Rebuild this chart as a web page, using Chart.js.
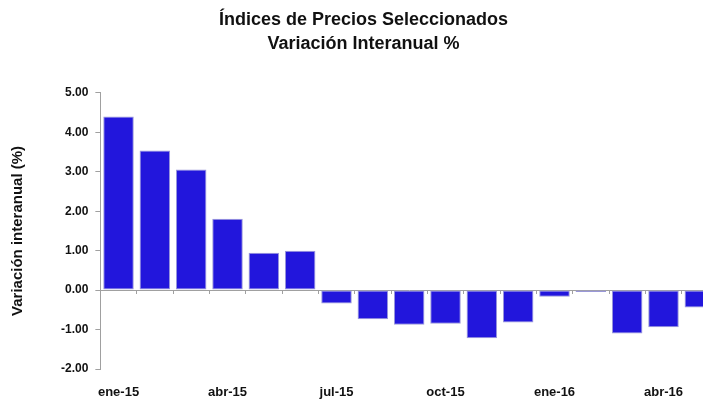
<!DOCTYPE html>
<html>
<head>
<meta charset="utf-8">
<script src="https://cdn.jsdelivr.net/npm/chart.js@4.4.1/dist/chart.umd.min.js"></script>
<style>
  html, body { margin: 0; padding: 0; background: #fff; overflow: hidden; }
  #wrap { width: 734px; height: 401px; }
</style>
</head>
<body>
<div id="wrap"><canvas id="chartIndices" width="734" height="401"></canvas></div>
<script>
const meses = ['ene-15', 'feb-15', 'mar-15', 'abr-15', 'may-15', 'jun-15', 'jul-15', 'ago-15', 'sep-15',
  'oct-15', 'nov-15', 'dic-15', 'ene-16', 'feb-16', 'mar-16', 'abr-16', 'may-16'];
const variacion = [4.40, 3.54, 3.06, 1.81, 0.95, 1.00, -0.34, -0.74, -0.88, -0.85, -1.22, -0.82, -0.17,
  -0.05, -1.10, -0.94, -0.44];
const yTicks = [-2, -1, 0, 1, 2, 3, 4, 5];

const FONT = "'Liberation Sans', Arial, sans-serif";
const AXIS_GRAY = '#a0a0a0';

const ctx = document.getElementById('chartIndices');
new Chart(ctx.getContext('2d'), {
  type: 'bar',
  data: {
    labels: meses,
    datasets: [{
      label: 'Variación interanual',
      data: variacion,
      backgroundColor: '#2216dc',
      borderColor: '#9a98d8',
      borderWidth: 1,
      borderSkipped: false,
      categoryPercentage: 1,
      barPercentage: 0.84,
      xAxisID: 'x'
    }]
  },
  options: {
    responsive: false,
    animation: false,
    events: [],
    layout: { padding: { left: 9, right: 16, top: 0, bottom: 0 } },
    plugins: {
      legend: { display: false },
      tooltip: { enabled: false },
      title: {
        display: true,
        text: ['Índices de Precios Seleccionados', 'Variación Interanual %'],
        color: '#111',
        font: { family: FONT, size: 18, weight: 'bold', lineHeight: 1.33 },
        padding: { top: 8, bottom: 37 }
      }
    },
    scales: {
      x: {
        type: 'category',
        position: 'bottom',
        border: { display: false },
        grid: { display: false, drawTicks: false },
        ticks: {
          autoSkip: false,
          maxRotation: 0,
          padding: 16,
          color: '#111',
          font: { family: FONT, size: 13, weight: 'bold' },
          callback: (v, i) => (i % 3 === 0 ? meses[i] : '')
        },
        // el padding de las etiquetas se cuenta doble; solo queremos el de arriba
        afterFit: axis => { axis.height = 32; }
      },
      // eje en el cero, sin espacio propio en el layout
      x2: {
        type: 'category',
        labels: meses,
        position: { y: 0 },
        offset: true,
        border: { display: true, color: AXIS_GRAY, width: 1 },
        grid: { offset: true, drawOnChartArea: false, drawTicks: true, tickLength: 3, color: AXIS_GRAY },
        ticks: { display: false },
        afterFit: axis => { axis.height = 0; }
      },
      y: {
        min: -2,
        max: 5,
        afterBuildTicks: axis => { axis.ticks = yTicks.map(v => ({ value: v })); },
        border: { display: true, color: AXIS_GRAY, width: 1 },
        grid: { drawOnChartArea: false, drawTicks: true, tickLength: 5, color: AXIS_GRAY },
        ticks: {
          padding: 7,
          color: '#111',
          font: { family: FONT, size: 12, weight: 'bold' },
          callback: v => Number(v).toFixed(2)
        },
        title: {
          display: true,
          text: 'Variación interanual (%)',
          color: '#111',
          font: { family: FONT, size: 15, weight: 'bold' },
          padding: { top: 0, bottom: 27 }
        }
      }
    }
  }
});
</script>
</body>
</html>
